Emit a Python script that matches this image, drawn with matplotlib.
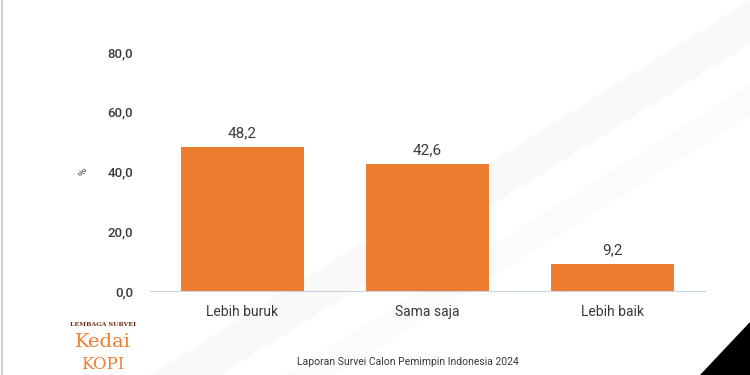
import matplotlib.pyplot as plt
from matplotlib.patches import Polygon

categories = ["Lebih buruk", "Sama saja", "Lebih baik"]
values = [48.2, 42.6, 9.2]
yticks = [0, 20, 40, 60, 80]

orange = "#ED7D31"
textc = "#3A3A3A"
plt.rcParams["font.family"] = ["Roboto", "DejaVu Sans"]

fig = plt.figure(figsize=(7.5, 3.75), dpi=100)
fig.patch.set_facecolor("white")

# faint diagonal stripes in the background
bg = fig.add_axes([0, 0, 1, 1], zorder=-1)
bg.set_xlim(0, 750)
bg.set_ylim(375, 0)
bg.axis("off")
for pts, c in [([(150, 375), (220, 375), (820, 0), (750, 0)], "#F9F9F9"),
               ([(285, 375), (335, 375), (935, 0), (885, 0)], "#FBFBFB")]:
    bg.add_patch(Polygon(pts, closed=True, color=c, lw=0))
bg.add_patch(Polygon([(750, 322), (750, 375), (700, 375)], closed=True, color="black", lw=0))
bg.plot([2, 2], [0, 375], color="#CFCFCF", lw=1.5)

ax = fig.add_axes([0.2, 0.224, 0.74, 0.637])
x = range(len(categories))
bars = ax.bar(x, values, width=0.66, color=orange, zorder=2)
for xi, v in zip(x, values):
    ax.text(xi, v + 2.2, f"{v:.1f}".replace(".", ","), ha="center", va="bottom",
            fontsize=11, color=textc)

ax.set_xlim(-0.5, 2.5)
ax.set_ylim(0, 80)
ax.set_yticks(yticks)
ax.set_yticklabels([f"{t:.1f}".replace(".", ",") for t in yticks], fontsize=9.5,
                   color=textc, weight="medium")
ax.set_xticks(list(x))
ax.set_xticklabels(categories, fontsize=10, color=textc)
ax.tick_params(length=0, pad=12)
ax.tick_params(axis="x", pad=10)
for s in ["top", "right", "left"]:
    ax.spines[s].set_visible(False)
ax.spines["bottom"].set_color("#C9D3DD")
ax.set_facecolor("none")
ax.set_ylabel("%", fontsize=7, color=textc, labelpad=14)

fig.text(0.544, 0.035, "Laporan Survei Calon Pemimpin Indonesia 2024", ha="center",
         va="center", fontsize=7.5, color=textc)

# logo
fig.text(0.137, 0.132, "LEMBAGA SURVEI", ha="center", fontsize=4.5, color="#6A3010",
         family="DejaVu Serif", weight="bold")
fig.text(0.137, 0.074, "Kedai", ha="center", fontsize=14, color=orange, family="DejaVu Serif")
fig.text(0.137, 0.016, "KOPI", ha="center", fontsize=12, color=orange, family="DejaVu Serif")

fig.savefig("out.png", dpi=100)
